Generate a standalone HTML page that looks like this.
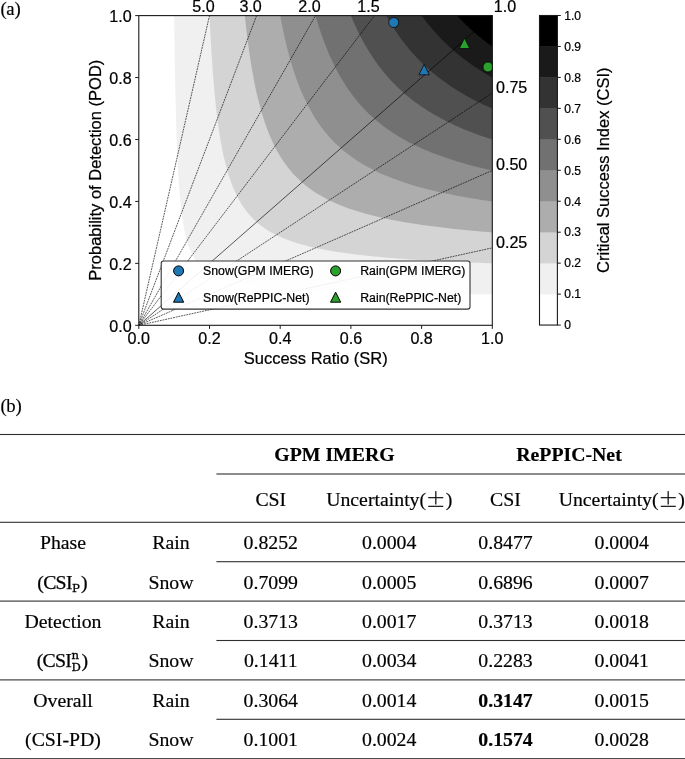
<!DOCTYPE html>
<html><head><meta charset="utf-8"><title>Performance diagram</title>
<style>
html,body{margin:0;padding:0;background:#fff}
body{width:685px;height:759px;position:relative;overflow:hidden;font-family:"Liberation Serif",serif;color:#000}
svg text{font-family:"Liberation Sans",sans-serif;fill:#000;stroke:#000;stroke-width:0.22px}
.lab{position:absolute;font-size:18.7px;letter-spacing:-0.25px;line-height:22px;white-space:nowrap}
.hl{position:absolute;height:1px;background:#555}
.csi{-webkit-text-stroke:0.25px #000}
.c,.lab{-webkit-text-stroke:0.18px #000}
.c{position:absolute;width:200px;height:30px;line-height:30px;text-align:center;font-size:19.8px;white-space:nowrap}
.c.b{font-weight:bold}
.ss{display:inline-block;position:relative;margin-left:0.9px;width:9.4px;height:0;vertical-align:baseline}
.ss sup,.ss sub{position:absolute;left:-0.7px;font-family:"DejaVu Serif","Liberation Serif",serif;font-size:11.7px;line-height:12px;height:12px;vertical-align:baseline;-webkit-text-stroke:0.3px #000}
.ss sup{top:-18.1px}
.ss sub{top:-6.1px}
.ss sub.p{top:-6.6px}
.tight{letter-spacing:-0.72px}
.pm{font-family:"Noto Serif CJK SC","Liberation Serif",serif;font-size:19.5px;line-height:0;position:relative;top:0.6px;-webkit-text-stroke:0.3px #000}
</style></head><body>
<svg width="685" height="380" viewBox="0 0 685 380" style="position:absolute;left:0;top:0"><defs><clipPath id="ax"><rect x="138.8" y="15.6" width="353.50" height="309.70"/></clipPath></defs><rect x="138.8" y="15.6" width="353.50" height="309.70" fill="#ffffff"/><g clip-path="url(#ax)" shape-rendering="geometricPrecision"><path d="M174.15,15.60 L174.56,47.31 L174.97,72.60 L175.37,93.24 L175.78,110.41 L176.19,124.91 L176.60,137.32 L177.01,148.06 L177.41,157.45 L177.82,165.72 L178.23,173.07 L178.64,179.65 L179.04,185.56 L179.45,190.90 L179.86,195.76 L180.27,200.19 L180.68,204.25 L181.08,207.98 L181.49,211.43 L181.90,214.62 L182.31,217.58 L182.72,220.33 L183.12,222.90 L183.53,225.31 L183.94,227.56 L184.35,229.68 L184.75,231.67 L185.16,233.55 L185.57,235.32 L185.98,237.00 L186.39,238.58 L186.79,240.09 L187.20,241.52 L187.61,242.88 L188.02,244.18 L188.43,245.41 L188.83,246.59 L189.24,247.72 L189.65,248.80 L190.06,249.83 L195.18,259.83 L200.30,266.34 L205.43,270.91 L210.55,274.30 L215.67,276.92 L220.79,279.00 L225.92,280.69 L231.04,282.09 L236.16,283.27 L241.29,284.28 L246.41,285.16 L251.53,285.92 L256.65,286.59 L261.78,287.19 L266.90,287.72 L272.02,288.19 L277.14,288.63 L282.27,289.02 L287.39,289.38 L292.51,289.70 L297.64,290.00 L302.76,290.28 L307.88,290.54 L313.00,290.78 L318.13,291.00 L323.25,291.21 L328.37,291.40 L333.49,291.58 L338.62,291.75 L343.74,291.91 L348.86,292.06 L353.99,292.20 L359.11,292.34 L364.23,292.46 L369.35,292.59 L374.48,292.70 L379.60,292.81 L384.72,292.91 L389.84,293.01 L394.97,293.11 L400.09,293.20 L405.21,293.28 L410.34,293.37 L415.46,293.45 L420.58,293.52 L425.70,293.59 L430.83,293.66 L435.95,293.73 L441.07,293.80 L446.20,293.86 L451.32,293.92 L456.44,293.98 L461.56,294.03 L466.69,294.09 L471.81,294.14 L476.93,294.19 L482.05,294.24 L487.18,294.28 L492.30,294.33 L493.30,294.33 L493.30,14.60 L174.15,14.60 Z" fill="#f0f0f0"/><path d="M209.50,15.60 L209.86,23.30 L210.23,30.56 L210.59,37.41 L210.95,43.88 L211.31,50.01 L211.68,55.82 L212.04,61.34 L212.40,66.58 L212.76,71.57 L213.13,76.33 L213.49,80.86 L213.85,85.20 L214.21,89.34 L214.58,93.30 L214.94,97.10 L215.30,100.74 L215.66,104.23 L216.03,107.59 L216.39,110.82 L216.75,113.92 L217.11,116.90 L217.48,119.78 L217.84,122.55 L218.20,125.23 L218.56,127.81 L218.93,130.30 L219.29,132.71 L219.65,135.04 L220.01,137.30 L220.38,139.48 L220.74,141.59 L221.10,143.64 L221.46,145.63 L221.83,147.55 L222.19,149.42 L222.55,151.24 L222.91,153.00 L223.28,154.71 L223.64,156.37 L228.19,173.90 L232.75,186.87 L237.30,196.86 L241.85,204.78 L246.41,211.23 L250.96,216.57 L255.51,221.07 L260.07,224.91 L264.62,228.23 L269.18,231.13 L273.73,233.68 L278.28,235.94 L282.84,237.96 L287.39,239.77 L291.94,241.41 L296.50,242.90 L301.05,244.25 L305.60,245.50 L310.16,246.64 L314.71,247.69 L319.26,248.66 L323.82,249.57 L328.37,250.41 L332.93,251.19 L337.48,251.92 L342.03,252.61 L346.59,253.26 L351.14,253.86 L355.69,254.43 L360.25,254.97 L364.80,255.48 L369.35,255.97 L373.91,256.42 L378.46,256.86 L383.01,257.27 L387.57,257.67 L392.12,258.04 L396.68,258.40 L401.23,258.74 L405.78,259.07 L410.34,259.38 L414.89,259.68 L419.44,259.97 L424.00,260.24 L428.55,260.51 L433.10,260.76 L437.66,261.01 L442.21,261.25 L446.76,261.47 L451.32,261.69 L455.87,261.90 L460.43,262.11 L464.98,262.30 L469.53,262.50 L474.09,262.68 L478.64,262.86 L483.19,263.03 L487.75,263.20 L492.30,263.36 L493.30,263.36 L493.30,14.60 L209.50,14.60 Z" fill="#d4d4d4"/><path d="M244.85,15.60 L245.17,18.65 L245.48,21.62 L245.80,24.52 L246.12,27.34 L246.44,30.10 L246.75,32.79 L247.07,35.42 L247.39,37.98 L247.71,40.49 L248.02,42.94 L248.34,45.33 L248.66,47.67 L248.97,49.96 L249.29,52.19 L249.61,54.38 L249.93,56.52 L250.24,58.62 L250.56,60.67 L250.88,62.68 L251.19,64.65 L251.51,66.58 L251.83,68.46 L252.15,70.31 L252.46,72.13 L252.78,73.91 L253.10,75.65 L253.42,77.36 L253.73,79.04 L254.05,80.69 L254.37,82.30 L254.68,83.89 L255.00,85.45 L255.32,86.98 L255.64,88.48 L255.95,89.95 L256.27,91.40 L256.59,92.82 L256.91,94.22 L257.22,95.60 L261.21,111.04 L265.19,123.73 L269.18,134.36 L273.16,143.37 L277.14,151.13 L281.13,157.86 L285.11,163.77 L289.10,168.99 L293.08,173.64 L297.07,177.81 L301.05,181.56 L305.03,184.96 L309.02,188.06 L313.00,190.89 L316.99,193.48 L320.97,195.87 L324.96,198.08 L328.94,200.13 L332.93,202.03 L336.91,203.80 L340.89,205.45 L344.88,207.00 L348.86,208.45 L352.85,209.82 L356.83,211.10 L360.82,212.32 L364.80,213.46 L368.78,214.55 L372.77,215.57 L376.75,216.55 L380.74,217.47 L384.72,218.36 L388.71,219.19 L392.69,220.00 L396.68,220.76 L400.66,221.49 L404.64,222.19 L408.63,222.86 L412.61,223.50 L416.60,224.12 L420.58,224.71 L424.57,225.28 L428.55,225.82 L432.53,226.35 L436.52,226.86 L440.50,227.34 L444.49,227.82 L448.47,228.27 L452.46,228.71 L456.44,229.13 L460.43,229.54 L464.41,229.94 L468.39,230.32 L472.38,230.70 L476.36,231.06 L480.35,231.40 L484.33,231.74 L488.32,232.07 L492.30,232.39 L493.30,232.39 L493.30,14.60 L244.85,14.60 Z" fill="#adadad"/><path d="M280.20,15.60 L280.47,17.08 L280.74,18.54 L281.02,19.98 L281.29,21.40 L281.56,22.80 L281.83,24.19 L282.10,25.55 L282.38,26.90 L282.65,28.24 L282.92,29.55 L283.19,30.85 L283.46,32.13 L283.74,33.40 L284.01,34.65 L284.28,35.89 L284.55,37.11 L284.82,38.31 L285.09,39.50 L285.37,40.68 L285.64,41.85 L285.91,43.00 L286.18,44.13 L286.45,45.25 L286.73,46.36 L287.00,47.46 L287.27,48.55 L287.54,49.62 L287.81,50.68 L288.09,51.73 L288.36,52.76 L288.63,53.79 L288.90,54.80 L289.17,55.80 L289.45,56.80 L289.72,57.78 L289.99,58.75 L290.26,59.71 L290.53,60.66 L290.81,61.60 L294.22,72.59 L297.64,82.29 L301.05,90.90 L304.47,98.61 L307.88,105.54 L311.30,111.81 L314.71,117.51 L318.13,122.71 L321.54,127.48 L324.96,131.87 L328.37,135.91 L331.79,139.66 L335.20,143.14 L338.62,146.37 L342.03,149.40 L345.45,152.22 L348.86,154.87 L352.28,157.36 L355.69,159.70 L359.11,161.91 L362.52,163.99 L365.94,165.96 L369.35,167.83 L372.77,169.60 L376.18,171.29 L379.60,172.89 L383.01,174.41 L386.43,175.86 L389.84,177.25 L393.26,178.58 L396.68,179.85 L400.09,181.06 L403.51,182.22 L406.92,183.34 L410.34,184.41 L413.75,185.44 L417.17,186.43 L420.58,187.38 L424.00,188.30 L427.41,189.18 L430.83,190.03 L434.24,190.85 L437.66,191.65 L441.07,192.41 L444.49,193.15 L447.90,193.87 L451.32,194.56 L454.73,195.23 L458.15,195.88 L461.56,196.51 L464.98,197.13 L468.39,197.72 L471.81,198.29 L475.22,198.85 L478.64,199.40 L482.05,199.92 L485.47,200.44 L488.88,200.93 L492.30,201.42 L493.30,201.42 L493.30,14.60 L280.20,14.60 Z" fill="#8f8f8f"/><path d="M315.55,15.60 L315.78,16.39 L316.00,17.18 L316.23,17.96 L316.46,18.73 L316.68,19.50 L316.91,20.26 L317.14,21.01 L317.36,21.76 L317.59,22.51 L317.82,23.25 L318.04,23.98 L318.27,24.71 L318.50,25.43 L318.72,26.15 L318.95,26.86 L319.18,27.57 L319.40,28.27 L319.63,28.97 L319.86,29.66 L320.08,30.35 L320.31,31.03 L320.54,31.71 L320.76,32.38 L320.99,33.05 L321.22,33.71 L321.44,34.37 L321.67,35.02 L321.89,35.67 L322.12,36.32 L322.35,36.96 L322.57,37.59 L322.80,38.23 L323.03,38.85 L323.25,39.48 L323.48,40.10 L323.71,40.71 L323.93,41.32 L324.16,41.93 L324.39,42.53 L327.23,49.77 L330.08,56.44 L332.93,62.62 L335.77,68.36 L338.62,73.69 L341.46,78.67 L344.31,83.32 L347.16,87.69 L350.00,91.78 L352.85,95.64 L355.69,99.27 L358.54,102.70 L361.39,105.94 L364.23,109.01 L367.08,111.93 L369.92,114.69 L372.77,117.32 L375.62,119.83 L378.46,122.22 L381.31,124.50 L384.15,126.67 L387.00,128.76 L389.84,130.75 L392.69,132.66 L395.54,134.49 L398.38,136.25 L401.23,137.94 L404.07,139.56 L406.92,141.13 L409.77,142.63 L412.61,144.08 L415.46,145.48 L418.30,146.83 L421.15,148.13 L424.00,149.38 L426.84,150.60 L429.69,151.78 L432.53,152.91 L435.38,154.01 L438.23,155.08 L441.07,156.11 L443.92,157.12 L446.76,158.09 L449.61,159.03 L452.46,159.95 L455.30,160.84 L458.15,161.70 L460.99,162.54 L463.84,163.36 L466.69,164.16 L469.53,164.93 L472.38,165.68 L475.22,166.42 L478.07,167.13 L480.92,167.83 L483.76,168.51 L486.61,169.17 L489.45,169.82 L492.30,170.45 L493.30,170.45 L493.30,14.60 L315.55,14.60 Z" fill="#717171"/><path d="M350.90,15.60 L351.08,16.04 L351.26,16.48 L351.44,16.91 L351.63,17.35 L351.81,17.78 L351.99,18.21 L352.17,18.64 L352.35,19.07 L352.53,19.49 L352.71,19.91 L352.89,20.33 L353.08,20.75 L353.26,21.17 L353.44,21.59 L353.62,22.00 L353.80,22.41 L353.98,22.82 L354.16,23.23 L354.34,23.63 L354.53,24.04 L354.71,24.44 L354.89,24.84 L355.07,25.24 L355.25,25.64 L355.43,26.03 L355.61,26.43 L355.79,26.82 L355.98,27.21 L356.16,27.60 L356.34,27.99 L356.52,28.37 L356.70,28.76 L356.88,29.14 L357.06,29.52 L357.24,29.90 L357.43,30.28 L357.61,30.65 L357.79,31.03 L357.97,31.40 L360.25,35.95 L362.52,40.28 L364.80,44.40 L367.08,48.31 L369.35,52.05 L371.63,55.62 L373.91,59.03 L376.18,62.29 L378.46,65.41 L380.74,68.40 L383.01,71.27 L385.29,74.03 L387.57,76.68 L389.84,79.22 L392.12,81.67 L394.40,84.03 L396.68,86.31 L398.95,88.50 L401.23,90.61 L403.51,92.66 L405.78,94.63 L408.06,96.54 L410.34,98.38 L412.61,100.17 L414.89,101.90 L417.17,103.57 L419.44,105.20 L421.72,106.77 L424.00,108.30 L426.27,109.78 L428.55,111.22 L430.83,112.62 L433.10,113.98 L435.38,115.30 L437.66,116.58 L439.93,117.83 L442.21,119.05 L444.49,120.24 L446.76,121.39 L449.04,122.51 L451.32,123.61 L453.59,124.68 L455.87,125.72 L458.15,126.74 L460.43,127.73 L462.70,128.70 L464.98,129.65 L467.26,130.57 L469.53,131.47 L471.81,132.36 L474.09,133.22 L476.36,134.06 L478.64,134.89 L480.92,135.69 L483.19,136.48 L485.47,137.26 L487.75,138.01 L490.02,138.75 L492.30,139.48 L493.30,139.48 L493.30,14.60 L350.90,14.60 Z" fill="#505050"/><path d="M386.25,15.60 L386.39,15.84 L386.52,16.08 L386.66,16.33 L386.79,16.57 L386.93,16.81 L387.07,17.05 L387.20,17.29 L387.34,17.52 L387.47,17.76 L387.61,18.00 L387.75,18.24 L387.88,18.47 L388.02,18.71 L388.15,18.94 L388.29,19.17 L388.43,19.41 L388.56,19.64 L388.70,19.87 L388.83,20.10 L388.97,20.34 L389.11,20.57 L389.24,20.80 L389.38,21.02 L389.51,21.25 L389.65,21.48 L389.78,21.71 L389.92,21.94 L390.06,22.16 L390.19,22.39 L390.33,22.61 L390.46,22.84 L390.60,23.06 L390.74,23.28 L390.87,23.51 L391.01,23.73 L391.14,23.95 L391.28,24.17 L391.42,24.39 L391.55,24.61 L393.26,27.33 L394.97,29.96 L396.68,32.51 L398.38,34.98 L400.09,37.39 L401.80,39.72 L403.51,41.98 L405.21,44.19 L406.92,46.33 L408.63,48.41 L410.34,50.43 L412.04,52.40 L413.75,54.32 L415.46,56.19 L417.17,58.01 L418.87,59.78 L420.58,61.51 L422.29,63.20 L424.00,64.85 L425.70,66.45 L427.41,68.02 L429.12,69.55 L430.83,71.04 L432.53,72.51 L434.24,73.93 L435.95,75.33 L437.66,76.69 L439.36,78.03 L441.07,79.33 L442.78,80.61 L444.49,81.86 L446.20,83.08 L447.90,84.28 L449.61,85.45 L451.32,86.60 L453.03,87.72 L454.73,88.83 L456.44,89.91 L458.15,90.97 L459.86,92.01 L461.56,93.03 L463.27,94.03 L464.98,95.01 L466.69,95.97 L468.39,96.91 L470.10,97.84 L471.81,98.75 L473.52,99.65 L475.22,100.52 L476.93,101.39 L478.64,102.23 L480.35,103.07 L482.05,103.88 L483.76,104.69 L485.47,105.48 L487.18,106.26 L488.88,107.02 L490.59,107.77 L492.30,108.51 L493.30,108.51 L493.30,14.60 L386.25,14.60 Z" fill="#333333"/><path d="M421.60,15.60 L421.69,15.72 L421.78,15.85 L421.87,15.97 L421.96,16.09 L422.05,16.22 L422.14,16.34 L422.23,16.46 L422.33,16.59 L422.42,16.71 L422.51,16.83 L422.60,16.95 L422.69,17.08 L422.78,17.20 L422.87,17.32 L422.96,17.44 L423.05,17.56 L423.14,17.68 L423.23,17.80 L423.32,17.93 L423.41,18.05 L423.50,18.17 L423.59,18.29 L423.68,18.41 L423.78,18.53 L423.87,18.65 L423.96,18.77 L424.05,18.89 L424.14,19.01 L424.23,19.12 L424.32,19.24 L424.41,19.36 L424.50,19.48 L424.59,19.60 L424.68,19.72 L424.77,19.84 L424.86,19.95 L424.95,20.07 L425.04,20.19 L425.14,20.31 L426.27,21.77 L427.41,23.20 L428.55,24.62 L429.69,26.00 L430.83,27.37 L431.97,28.71 L433.10,30.03 L434.24,31.32 L435.38,32.60 L436.52,33.86 L437.66,35.09 L438.80,36.31 L439.93,37.50 L441.07,38.68 L442.21,39.84 L443.35,40.98 L444.49,42.10 L445.63,43.21 L446.76,44.30 L447.90,45.37 L449.04,46.43 L450.18,47.47 L451.32,48.50 L452.46,49.51 L453.59,50.51 L454.73,51.49 L455.87,52.46 L457.01,53.42 L458.15,54.36 L459.29,55.29 L460.43,56.20 L461.56,57.11 L462.70,58.00 L463.84,58.88 L464.98,59.75 L466.12,60.60 L467.26,61.44 L468.39,62.28 L469.53,63.10 L470.67,63.91 L471.81,64.71 L472.95,65.50 L474.09,66.28 L475.22,67.05 L476.36,67.81 L477.50,68.57 L478.64,69.31 L479.78,70.04 L480.92,70.76 L482.05,71.48 L483.19,72.19 L484.33,72.88 L485.47,73.57 L486.61,74.25 L487.75,74.93 L488.88,75.59 L490.02,76.25 L491.16,76.90 L492.30,77.54 L493.30,77.54 L493.30,14.60 L421.60,14.60 Z" fill="#1a1a1a"/><path d="M456.95,15.60 L457.00,15.65 L457.04,15.70 L457.09,15.75 L457.13,15.80 L457.18,15.84 L457.22,15.89 L457.27,15.94 L457.31,15.99 L457.36,16.04 L457.40,16.09 L457.45,16.14 L457.49,16.19 L457.54,16.23 L457.58,16.28 L457.63,16.33 L457.68,16.38 L457.72,16.43 L457.77,16.48 L457.81,16.53 L457.86,16.57 L457.90,16.62 L457.95,16.67 L457.99,16.72 L458.04,16.77 L458.08,16.82 L458.13,16.86 L458.17,16.91 L458.22,16.96 L458.26,17.01 L458.31,17.06 L458.35,17.11 L458.40,17.15 L458.45,17.20 L458.49,17.25 L458.54,17.30 L458.58,17.35 L458.63,17.39 L458.67,17.44 L458.72,17.49 L459.29,18.09 L459.86,18.68 L460.43,19.27 L460.99,19.86 L461.56,20.44 L462.13,21.02 L462.70,21.59 L463.27,22.16 L463.84,22.73 L464.41,23.29 L464.98,23.84 L465.55,24.40 L466.12,24.95 L466.69,25.49 L467.26,26.03 L467.82,26.57 L468.39,27.10 L468.96,27.63 L469.53,28.16 L470.10,28.68 L470.67,29.20 L471.24,29.72 L471.81,30.23 L472.38,30.74 L472.95,31.24 L473.52,31.74 L474.09,32.24 L474.65,32.74 L475.22,33.23 L475.79,33.72 L476.36,34.20 L476.93,34.68 L477.50,35.16 L478.07,35.64 L478.64,36.11 L479.21,36.58 L479.78,37.04 L480.35,37.51 L480.92,37.97 L481.49,38.42 L482.05,38.88 L482.62,39.33 L483.19,39.77 L483.76,40.22 L484.33,40.66 L484.90,41.10 L485.47,41.54 L486.04,41.97 L486.61,42.40 L487.18,42.83 L487.75,43.26 L488.32,43.68 L488.88,44.10 L489.45,44.52 L490.02,44.93 L490.59,45.35 L491.16,45.76 L491.73,46.16 L492.30,46.57 L493.30,46.57 L493.30,14.60 L456.95,14.60 Z" fill="#000000"/><line x1="138.80" y1="325.30" x2="209.50" y2="15.60" stroke="#000" stroke-width="0.65" stroke-dasharray="1.88 0.82"/><line x1="138.80" y1="325.30" x2="256.63" y2="15.60" stroke="#000" stroke-width="0.65" stroke-dasharray="1.88 0.82"/><line x1="138.80" y1="325.30" x2="315.55" y2="15.60" stroke="#000" stroke-width="0.65" stroke-dasharray="1.88 0.82"/><line x1="138.80" y1="325.30" x2="374.47" y2="15.60" stroke="#000" stroke-width="0.65" stroke-dasharray="1.88 0.82"/><line x1="138.80" y1="325.30" x2="492.30" y2="15.60" stroke="#000" stroke-width="0.65"/><line x1="138.80" y1="325.30" x2="492.30" y2="93.03" stroke="#000" stroke-width="0.65" stroke-dasharray="1.88 0.82"/><line x1="138.80" y1="325.30" x2="492.30" y2="170.45" stroke="#000" stroke-width="0.65" stroke-dasharray="1.88 0.82"/><line x1="138.80" y1="325.30" x2="492.30" y2="247.88" stroke="#000" stroke-width="0.65" stroke-dasharray="1.88 0.82"/><circle cx="393.70" cy="22.50" r="5.0" fill="#1f77b4" stroke="#000" stroke-width="0.7"/><path d="M424.10,64.40 L418.90,74.80 L429.30,74.80 Z" fill="#1f77b4" stroke="#000" stroke-width="0.7" stroke-linejoin="miter"/><path d="M464.50,38.10 L459.30,48.50 L469.70,48.50 Z" fill="#2ca02c" stroke="#000" stroke-width="0.7" stroke-linejoin="miter"/><circle cx="488.00" cy="67.00" r="5.0" fill="#2ca02c" stroke="#000" stroke-width="0.7"/></g><rect x="138.8" y="15.6" width="353.50" height="309.70" fill="none" stroke="#1a1a1a" stroke-width="1.1"/><line x1="138.80" y1="325.3" x2="138.80" y2="328.90000000000003" stroke="#1a1a1a" stroke-width="1"/><text x="138.80" y="343.9" text-anchor="middle" font-size="16.1">0.0</text><line x1="135.20000000000002" y1="325.30" x2="138.8" y2="325.30" stroke="#1a1a1a" stroke-width="1"/><text x="131.7" y="331.60" text-anchor="end" font-size="16.1">0.0</text><line x1="209.50" y1="325.3" x2="209.50" y2="328.90000000000003" stroke="#1a1a1a" stroke-width="1"/><text x="209.50" y="343.9" text-anchor="middle" font-size="16.1">0.2</text><line x1="135.20000000000002" y1="263.36" x2="138.8" y2="263.36" stroke="#1a1a1a" stroke-width="1"/><text x="131.7" y="269.66" text-anchor="end" font-size="16.1">0.2</text><line x1="280.20" y1="325.3" x2="280.20" y2="328.90000000000003" stroke="#1a1a1a" stroke-width="1"/><text x="280.20" y="343.9" text-anchor="middle" font-size="16.1">0.4</text><line x1="135.20000000000002" y1="201.42" x2="138.8" y2="201.42" stroke="#1a1a1a" stroke-width="1"/><text x="131.7" y="207.72" text-anchor="end" font-size="16.1">0.4</text><line x1="350.90" y1="325.3" x2="350.90" y2="328.90000000000003" stroke="#1a1a1a" stroke-width="1"/><text x="350.90" y="343.9" text-anchor="middle" font-size="16.1">0.6</text><line x1="135.20000000000002" y1="139.48" x2="138.8" y2="139.48" stroke="#1a1a1a" stroke-width="1"/><text x="131.7" y="145.78" text-anchor="end" font-size="16.1">0.6</text><line x1="421.60" y1="325.3" x2="421.60" y2="328.90000000000003" stroke="#1a1a1a" stroke-width="1"/><text x="421.60" y="343.9" text-anchor="middle" font-size="16.1">0.8</text><line x1="135.20000000000002" y1="77.54" x2="138.8" y2="77.54" stroke="#1a1a1a" stroke-width="1"/><text x="131.7" y="83.84" text-anchor="end" font-size="16.1">0.8</text><line x1="492.30" y1="325.3" x2="492.30" y2="328.90000000000003" stroke="#1a1a1a" stroke-width="1"/><text x="492.30" y="343.9" text-anchor="middle" font-size="16.1">1.0</text><line x1="135.20000000000002" y1="15.60" x2="138.8" y2="15.60" stroke="#1a1a1a" stroke-width="1"/><text x="131.7" y="21.90" text-anchor="end" font-size="16.1">1.0</text><text x="315.7" y="364.3" text-anchor="middle" font-size="16.5">Success Ratio (SR)</text><text transform="translate(100.6,170.2) rotate(-90)" text-anchor="middle" font-size="16.5">Probability of Detection (POD)</text><text x="203.50" y="11.9" text-anchor="middle" font-size="16.1">5.0</text><text x="250.63" y="11.9" text-anchor="middle" font-size="16.1">3.0</text><text x="309.55" y="11.9" text-anchor="middle" font-size="16.1">2.0</text><text x="368.47" y="11.9" text-anchor="middle" font-size="16.1">1.5</text><text x="493.8" y="11.8" font-size="16.1">1.0</text><text x="496.0" y="92.93" font-size="16.1">0.75</text><text x="496.0" y="170.35" font-size="16.1">0.50</text><text x="496.0" y="247.78" font-size="16.1">0.25</text><rect x="161.2" y="261.0" width="308.8" height="48.1" rx="2.3" fill="#fff" fill-opacity="0.9" stroke="#333" stroke-width="1.1"/><circle cx="178.60" cy="270.90" r="5.0" fill="#1f77b4" stroke="#000" stroke-width="1"/><path d="M178.60,292.20 L173.50,302.20 L183.70,302.20 Z" fill="#1f77b4" stroke="#000" stroke-width="1" stroke-linejoin="miter"/><circle cx="335.60" cy="270.90" r="5.0" fill="#2ca02c" stroke="#000" stroke-width="1"/><path d="M335.60,292.20 L330.50,302.20 L340.70,302.20 Z" fill="#2ca02c" stroke="#000" stroke-width="1" stroke-linejoin="miter"/><text x="203.0" y="274.9" font-size="12.3">Snow(GPM IMERG)</text><text x="203.0" y="301.5" font-size="12.3">Snow(RePPIC-Net)</text><text x="360.2" y="274.9" font-size="12.3">Rain(GPM IMERG)</text><text x="360.2" y="301.5" font-size="12.3">Rain(RePPIC-Net)</text><rect x="539.5" y="294.10" width="17.90" height="30.96" fill="#ffffff"/><rect x="539.5" y="263.14" width="17.90" height="31.26" fill="#f0f0f0"/><rect x="539.5" y="232.19" width="17.90" height="31.26" fill="#d4d4d4"/><rect x="539.5" y="201.23" width="17.90" height="31.26" fill="#adadad"/><rect x="539.5" y="170.28" width="17.90" height="31.26" fill="#8f8f8f"/><rect x="539.5" y="139.32" width="17.90" height="31.26" fill="#717171"/><rect x="539.5" y="108.37" width="17.90" height="31.26" fill="#505050"/><rect x="539.5" y="77.41" width="17.90" height="31.26" fill="#333333"/><rect x="539.5" y="46.45" width="17.90" height="31.26" fill="#1a1a1a"/><rect x="539.5" y="15.50" width="17.90" height="31.26" fill="#000000"/><rect x="539.5" y="15.5" width="17.90" height="309.55" fill="none" stroke="#1a1a1a" stroke-width="1.1"/><line x1="557.4" y1="325.05" x2="560.8" y2="325.05" stroke="#1a1a1a" stroke-width="1"/><text x="564.2" y="329.35" font-size="12.1">0</text><line x1="557.4" y1="294.10" x2="560.8" y2="294.10" stroke="#1a1a1a" stroke-width="1"/><text x="564.2" y="298.40" font-size="12.1">0.1</text><line x1="557.4" y1="263.14" x2="560.8" y2="263.14" stroke="#1a1a1a" stroke-width="1"/><text x="564.2" y="267.44" font-size="12.1">0.2</text><line x1="557.4" y1="232.19" x2="560.8" y2="232.19" stroke="#1a1a1a" stroke-width="1"/><text x="564.2" y="236.49" font-size="12.1">0.3</text><line x1="557.4" y1="201.23" x2="560.8" y2="201.23" stroke="#1a1a1a" stroke-width="1"/><text x="564.2" y="205.53" font-size="12.1">0.4</text><line x1="557.4" y1="170.28" x2="560.8" y2="170.28" stroke="#1a1a1a" stroke-width="1"/><text x="564.2" y="174.58" font-size="12.1">0.5</text><line x1="557.4" y1="139.32" x2="560.8" y2="139.32" stroke="#1a1a1a" stroke-width="1"/><text x="564.2" y="143.62" font-size="12.1">0.6</text><line x1="557.4" y1="108.37" x2="560.8" y2="108.37" stroke="#1a1a1a" stroke-width="1"/><text x="564.2" y="112.67" font-size="12.1">0.7</text><line x1="557.4" y1="77.41" x2="560.8" y2="77.41" stroke="#1a1a1a" stroke-width="1"/><text x="564.2" y="81.71" font-size="12.1">0.8</text><line x1="557.4" y1="46.45" x2="560.8" y2="46.45" stroke="#1a1a1a" stroke-width="1"/><text x="564.2" y="50.75" font-size="12.1">0.9</text><line x1="557.4" y1="15.50" x2="560.8" y2="15.50" stroke="#1a1a1a" stroke-width="1"/><text x="564.2" y="19.80" font-size="12.1">1.0</text><text transform="translate(609.0,170.2) rotate(-90)" text-anchor="middle" font-size="16.5">Critical Success Index (CSI)</text></svg>
<div class="lab" style="left:0.4px;top:-2px">(a)</div>
<div class="lab" style="left:0.4px;top:395px">(b)</div>
<svg width="685" height="759" viewBox="0 0 685 759" style="position:absolute;left:0;top:0;pointer-events:none"><rect x="0" y="433.95" width="685" height="1.1" fill="#303030"/><rect x="216.4" y="473.45" width="468.6" height="1.1" fill="#303030"/><rect x="0" y="521.75" width="685" height="1.1" fill="#303030"/><rect x="216.4" y="561.15" width="468.6" height="1.1" fill="#303030"/><rect x="0" y="600.55" width="685" height="1.1" fill="#303030"/><rect x="216.4" y="639.95" width="468.6" height="1.1" fill="#303030"/><rect x="0" y="679.35" width="685" height="1.1" fill="#303030"/><rect x="216.4" y="718.75" width="468.6" height="1.1" fill="#303030"/><rect x="0" y="758.15" width="685" height="1.1" fill="#303030"/></svg><div class="c b" style="left:234.5px;top:439px">GPM IMERG</div><div class="c b" style="left:469.0px;top:439px">RePPIC-Net</div><div class="c " style="left:170.8px;top:484px">CSI</div><div class="c " style="left:289.2px;top:484px">Uncertainty(<span class="pm">±</span>)</div><div class="c " style="left:405.5px;top:484px">CSI</div><div class="c " style="left:521.7px;top:484px">Uncertainty(<span class="pm">±</span>)</div><div class="c " style="left:-37.0px;top:527px">Phase</div><div class="c " style="left:71.0px;top:527px">Rain</div><div class="c " style="left:170.8px;top:527px">0.8252</div><div class="c " style="left:289.2px;top:527px">0.0004</div><div class="c " style="left:405.5px;top:527px">0.8477</div><div class="c " style="left:521.7px;top:527px">0.0004</div><div class="c " style="left:-37.6px;top:567px"><span class="csi"><span class="tight">(CSI</span><span class="ss" style="width:8.3px"><sub class="p">P</sub></span>)</span></div><div class="c " style="left:71.0px;top:567px">Snow</div><div class="c " style="left:170.8px;top:567px">0.7099</div><div class="c " style="left:289.2px;top:567px">0.0005</div><div class="c " style="left:405.5px;top:567px">0.6896</div><div class="c " style="left:521.7px;top:567px">0.0007</div><div class="c " style="left:-37.0px;top:606px">Detection</div><div class="c " style="left:71.0px;top:606px">Rain</div><div class="c " style="left:170.8px;top:606px">0.3713</div><div class="c " style="left:289.2px;top:606px">0.0017</div><div class="c " style="left:405.5px;top:606px">0.3713</div><div class="c " style="left:521.7px;top:606px">0.0018</div><div class="c " style="left:-37.6px;top:645px"><span class="csi"><span class="tight">(CSI</span><span class="ss"><sup>n</sup><sub>D</sub></span>)</span></div><div class="c " style="left:71.0px;top:645px">Snow</div><div class="c " style="left:170.8px;top:645px">0.1411</div><div class="c " style="left:289.2px;top:645px">0.0034</div><div class="c " style="left:405.5px;top:645px">0.2283</div><div class="c " style="left:521.7px;top:645px">0.0041</div><div class="c " style="left:-37.0px;top:685px">Overall</div><div class="c " style="left:71.0px;top:685px">Rain</div><div class="c " style="left:170.8px;top:685px">0.3064</div><div class="c " style="left:289.2px;top:685px">0.0014</div><div class="c " style="left:405.5px;top:685px"><b>0.3147</b></div><div class="c " style="left:521.7px;top:685px">0.0015</div><div class="c " style="left:-37.0px;top:724px">(CSI-PD)</div><div class="c " style="left:71.0px;top:724px">Snow</div><div class="c " style="left:170.8px;top:724px">0.1001</div><div class="c " style="left:289.2px;top:724px">0.0024</div><div class="c " style="left:405.5px;top:724px"><b>0.1574</b></div><div class="c " style="left:521.7px;top:724px">0.0028</div>
</body></html>
